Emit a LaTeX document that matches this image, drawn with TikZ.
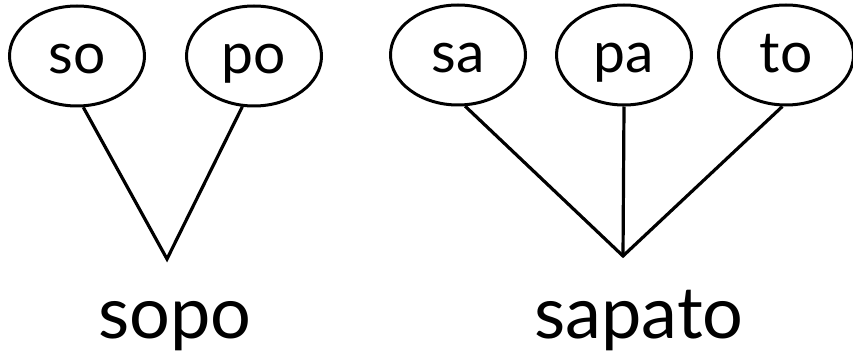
\documentclass[tikz,border=0pt]{standalone}
\usepackage{fontspec}
\setmainfont{Lato}
\usetikzlibrary{shapes.geometric}

\begin{document}
\begin{tikzpicture}[
x=1pt, y=-1pt,
syl/.style={draw, ellipse, line width=3pt, minimum width=135pt, minimum height=100pt, inner sep=0pt, text height=36pt, text depth=0pt, font=\fontsize{57}{57}\selectfont},
word/.style={anchor=base, inner sep=0pt, font=\fontsize{72}{72}\selectfont},
link/.style={line width=3.2pt}
]
\useasboundingbox (0,0) rectangle (853,358);

% sopo
\node[syl] (so) at (77,56) {so};
\node[syl] (po) at (254,56) {po};
\coordinate (sopotip) at (167,259);
\node[word] (sopo) at (175,338) {sopo};

% sapato
\node[syl] (sa) at (458,55) {sa};
\node[syl] (pa) at (624,55) {pa};
\node[syl] (to) at (786,55) {to};
\coordinate (sapatotip) at (623,256);
\node[word] (sapato) at (639,338) {sapato};

\draw[link] (so.-83) -- (sopotip) -- (po.-103);
\draw[link] (sa.-82) -- (sapatotip) -- (to.-94);
\draw[link] (pa.south) -- (sapatotip);
\end{tikzpicture}
\end{document}
